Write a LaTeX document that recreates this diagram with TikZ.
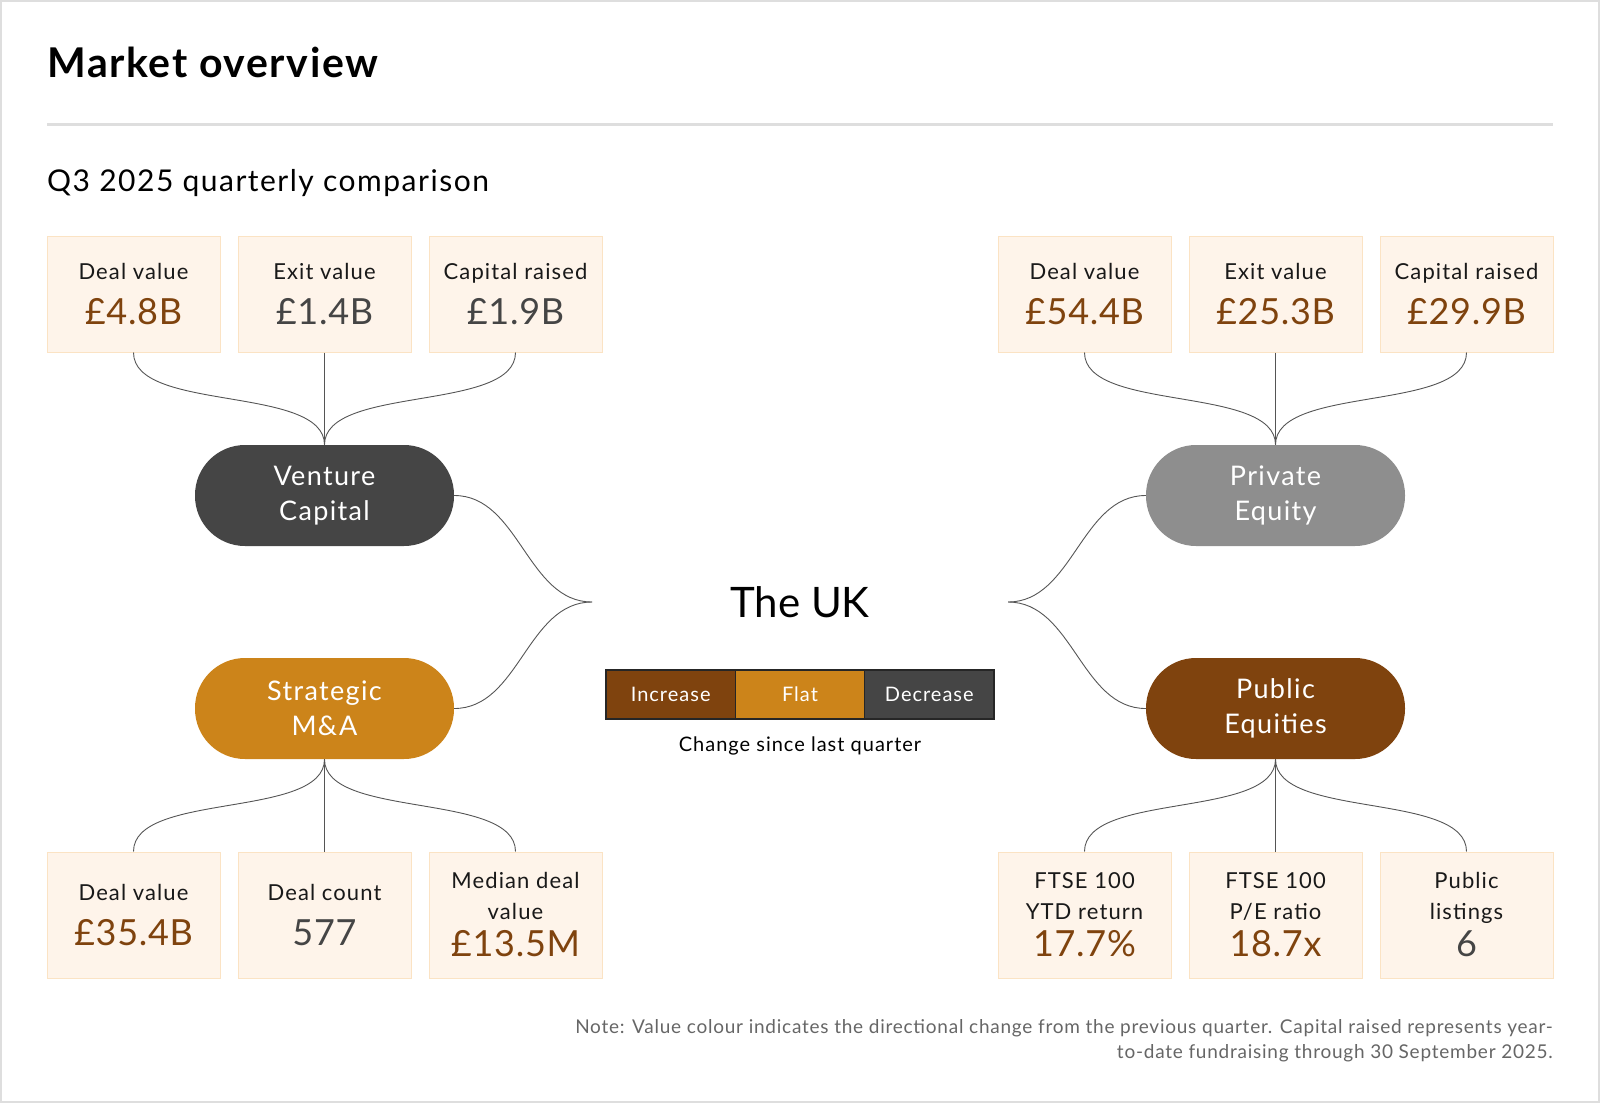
\documentclass[tikz,border=0pt]{standalone}
\usepackage{fontspec}
\setmainfont{Lato}
\newfontfamily\wide[LetterSpace=5]{Lato}
\newfontfamily\semiwide[LetterSpace=4]{Lato}
\newfontfamily\snug[LetterSpace=2]{Lato}
\usetikzlibrary{positioning}

\definecolor{upbrown}{HTML}{7F430E}
\definecolor{flatorange}{HTML}{CC841A}
\definecolor{downgray}{HTML}{454545}
\definecolor{pegray}{HTML}{8E8E8E}
\definecolor{cardfill}{HTML}{FEF4EA}
\definecolor{cardline}{HTML}{FBE3C4}
\definecolor{wiregray}{HTML}{555555}
\definecolor{notegray}{HTML}{666666}
\definecolor{rulegray}{HTML}{DEDEDE}

\newcommand{\lblfont}{\wide\fontsize{22}{31}\selectfont}
\newcommand{\valfont}{\snug\fontsize{36}{38}\selectfont}
\newcommand{\val}[2]{{\valfont\color{#1}#2}}

\begin{document}
\begin{tikzpicture}[x=1pt,y=-1pt,node distance=17pt]
    \tikzstyle{card} = [rectangle, draw=cardline, fill=cardfill, line width=1pt, minimum width=173pt, align=center, text=black!90, inner sep=0pt, font=\lblfont]
    \tikzstyle{pill} = [rectangle, rounded corners=50pt, minimum width=259pt, minimum height=101pt, text=white, align=center, font=\wide\fontsize{27}{35}\selectfont]
    \tikzstyle{wire} = [draw=wiregray, line width=0.9pt]
    \tikzstyle{keycell} = [rectangle, draw=black!85, line width=1.2pt, outer sep=0pt, minimum width=129.3pt, minimum height=49pt, text=white, font=\wide\fontsize{20}{24}\selectfont]

    \useasboundingbox (0,0) rectangle (1600,1103);
    \draw[rulegray, line width=2pt] (1,1) rectangle (1599,1102);

    % heading
    \node[anchor=base west, inner sep=0pt, font=\semiwide\fontsize{41}{44}\selectfont\bfseries] (title) at (47,77) {Market overview};
    \draw[rulegray, line width=2.5pt] (47,124.5) -- (1553,124.5);
    \node[anchor=base west, inner sep=0pt, font=\wide\fontsize{30}{34}\selectfont] (subtitle) at (47,191) {Q3 2025 quarterly comparison};

    % venture capital
    \node[card, minimum height=116pt] (vcdeal) at (133.5,294) {Deal value\\[14pt]\val{upbrown}{£4.8B}};
    \node[card, minimum height=116pt, right=of vcdeal] (vcexit) {Exit value\\[14pt]\val{downgray}{£1.4B}};
    \node[card, minimum height=116pt, right=of vcexit] (vccap) {Capital raised\\[14pt]\val{downgray}{£1.9B}};
    \node[pill, fill=downgray] (vc) at (324.5,495.5) {Venture\\Capital};

    % private equity
    \node[card, minimum height=116pt] (pedeal) at (1084.5,294) {Deal value\\[14pt]\val{upbrown}{£54.4B}};
    \node[card, minimum height=116pt, right=of pedeal] (peexit) {Exit value\\[14pt]\val{upbrown}{£25.3B}};
    \node[card, minimum height=116pt, right=of peexit] (pecap) {Capital raised\\[14pt]\val{upbrown}{£29.9B}};
    \node[pill, fill=pegray] (pe) at (1275.5,495.5) {Private\\Equity};

    % strategic M&A
    \node[pill, fill=flatorange] (sma) at (324.5,708.5) {Strategic\\M\&A};
    \node[card, minimum height=126pt] (smadeal) at (133.5,915) {Deal value\\[14pt]\val{upbrown}{£35.4B}};
    \node[card, minimum height=126pt, right=of smadeal] (smacount) {Deal count\\[14pt]\val{downgray}{577}};
    \node[card, minimum height=126pt, right=of smacount] (smamed) {Median deal\\value\\[6pt]\val{upbrown}{£13.5M}};

    % public equities
    \node[pill, fill=upbrown] (pub) at (1275.5,708.5) {Public\\Equities};
    \node[card, minimum height=126pt] (pubret) at (1084.5,915) {FTSE 100\\YTD return\\[6pt]\val{upbrown}{17.7\%}};
    \node[card, minimum height=126pt, right=of pubret] (pubpe) {FTSE 100\\P/E ratio\\[6pt]\val{upbrown}{18.7x}};
    \node[card, minimum height=126pt, right=of pubpe] (publist) {Public\\listings\\[6pt]\val{downgray}{6}};

    % centre
    \node[font=\fontsize{42}{46}\selectfont] (uk) at (800,602) {The UK};
    \coordinate (hubL) at (592,602);
    \coordinate (hubR) at (1008,602);
    \node[keycell, fill=upbrown] (inc) at (670.7,694.5) {Increase};
    \node[keycell, fill=flatorange, right=0pt of inc] (flat) {Flat};
    \node[keycell, fill=downgray, right=0pt of flat] (dec) {Decrease};
    \node[font=\wide\fontsize{20}{24}\selectfont] (keycap) at (800,746) {Change since last quarter};

    % connectors
    \draw[wire] (vcdeal.south) .. controls +(0,60) and +(0,-60) .. (vc.north);
    \draw[wire] (vcexit.south) -- (vc.north);
    \draw[wire] (vccap.south) .. controls +(0,60) and +(0,-60) .. (vc.north);
    \draw[wire] (pedeal.south) .. controls +(0,60) and +(0,-60) .. (pe.north);
    \draw[wire] (peexit.south) -- (pe.north);
    \draw[wire] (pecap.south) .. controls +(0,60) and +(0,-60) .. (pe.north);
    \draw[wire] (sma.south) .. controls +(0,60) and +(0,-60) .. (smadeal.north);
    \draw[wire] (sma.south) -- (smacount.north);
    \draw[wire] (sma.south) .. controls +(0,60) and +(0,-60) .. (smamed.north);
    \draw[wire] (pub.south) .. controls +(0,60) and +(0,-60) .. (pubret.north);
    \draw[wire] (pub.south) -- (pubpe.north);
    \draw[wire] (pub.south) .. controls +(0,60) and +(0,-60) .. (publist.north);
    \draw[wire] (vc.east) .. controls +(65,0) and +(-65,0) .. (hubL);
    \draw[wire] (sma.east) .. controls +(65,0) and +(-65,0) .. (hubL);
    \draw[wire] (pe.west) .. controls +(-65,0) and +(65,0) .. (hubR);
    \draw[wire] (pub.west) .. controls +(-65,0) and +(65,0) .. (hubR);

    % note
    \node[anchor=base east, inner sep=0pt, align=right, text=notegray, font=\semiwide\fontsize{19}{25}\selectfont] (note) at (1553,1058) {Note: Value colour indicates the directional change from the previous quarter. Capital raised represents year-\\to-date fundraising through 30 September 2025.};
\end{tikzpicture}
\end{document}
